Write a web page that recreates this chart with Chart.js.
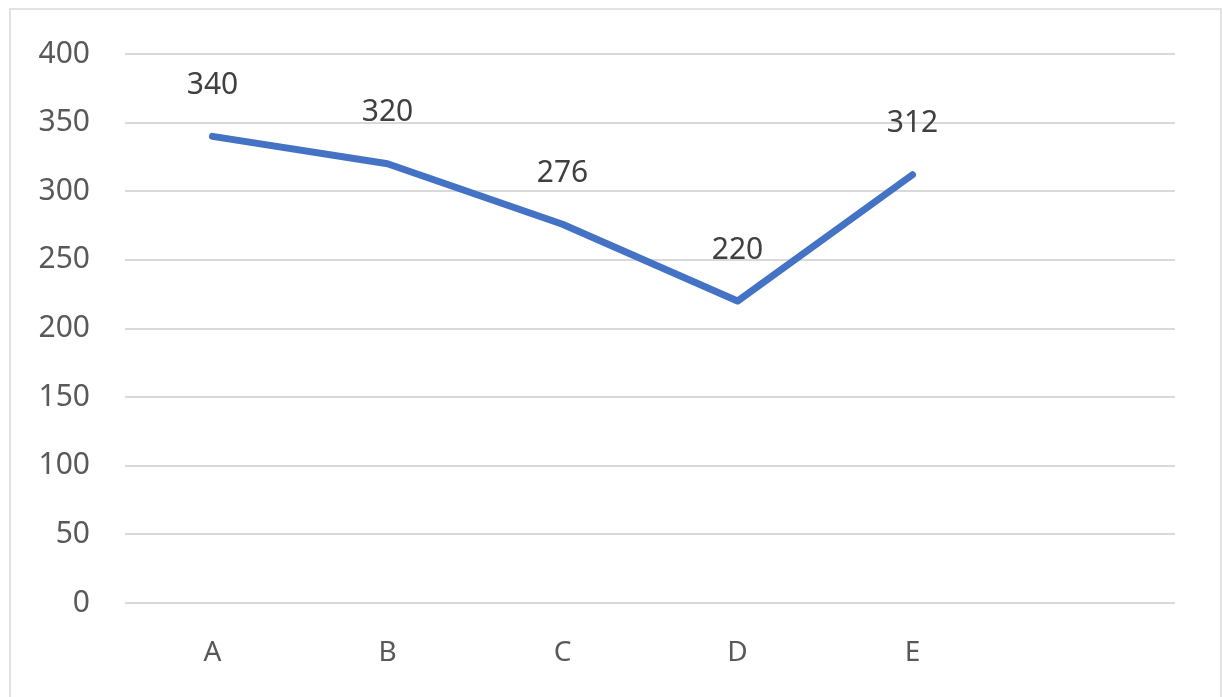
<!DOCTYPE html>
<html lang="en">
<head>
    <meta charset="UTF-8">
    <title>Line chart</title>
    <script src="https://cdn.jsdelivr.net/npm/chart.js"></script>
    <style>
        html, body {
            margin: 0;
            padding: 0;
            background: #ffffff;
            overflow: hidden;
        }
        .frame {
            position: absolute;
            left: 9px;
            top: 8px;
            width: 1209px;
            height: 720px;
            border: 2px solid #e2e2e2;
            pointer-events: none;
        }
        .wrap {
            position: absolute;
            left: 0;
            top: 0;
            width: 1222px;
            height: 697px;
        }
    </style>
</head>
<body>
    <div class="wrap"><canvas id="lineChart" width="1222" height="697"></canvas></div>
    <div class="frame"></div>

    <script>
        // data
        const categories = ['A', 'B', 'C', 'D', 'E', ''];
        const values = [340, 320, 276, 220, 312, null];
        const yTicks = { min: 0, max: 400, step: 50 };

        // value labels above each point, like Excel's "above" position
        const valueLabels = {
            id: 'valueLabels',
            afterDatasetsDraw(chart) {
                const ctx = chart.ctx;
                const meta = chart.getDatasetMeta(0);
                ctx.save();
                ctx.font = '30px "Noto Sans", sans-serif';
                ctx.fillStyle = '#404040';
                ctx.textAlign = 'center';
                ctx.textBaseline = 'middle';
                meta.data.forEach((pt, i) => {
                    if (values[i] == null) return;
                    ctx.fillText(String(values[i]), pt.x, pt.y - 51);
                });
                ctx.restore();
            }
        };

        const ctx = document.getElementById('lineChart').getContext('2d');
        new Chart(ctx, {
            type: 'line',
            data: {
                labels: categories,
                datasets: [{
                    data: values,
                    borderColor: '#4472C4',
                    borderWidth: 7,
                    borderCapStyle: 'round',
                    borderJoinStyle: 'round',
                    pointRadius: 0,
                    pointHoverRadius: 0,
                    tension: 0,
                    fill: false
                }]
            },
            options: {
                responsive: false,
                animation: false,
                events: [],
                layout: {
                    padding: { left: 10, right: 47, top: 54, bottom: 0 }
                },
                scales: {
                    y: {
                        min: yTicks.min,
                        max: yTicks.max,
                        ticks: {
                            stepSize: yTicks.step,
                            padding: 35,
                            color: '#595959',
                            font: { family: '"Noto Sans", sans-serif', size: 30 }
                        },
                        grid: { color: '#d9d9d9', lineWidth: 2, drawTicks: false },
                        border: { display: false },
                        afterFit(scale) { scale.width = 115; }
                    },
                    x: {
                        offset: true,
                        ticks: {
                            padding: 33,
                            color: '#595959',
                            font: { family: '"Noto Sans", sans-serif', size: 28 }
                        },
                        grid: { display: false, drawTicks: false, offset: true },
                        border: { display: false },
                        afterFit(scale) { scale.height = 94; }
                    }
                },
                plugins: {
                    legend: { display: false },
                    tooltip: { enabled: false }
                }
            },
            plugins: [valueLabels]
        });
    </script>
</body>
</html>
